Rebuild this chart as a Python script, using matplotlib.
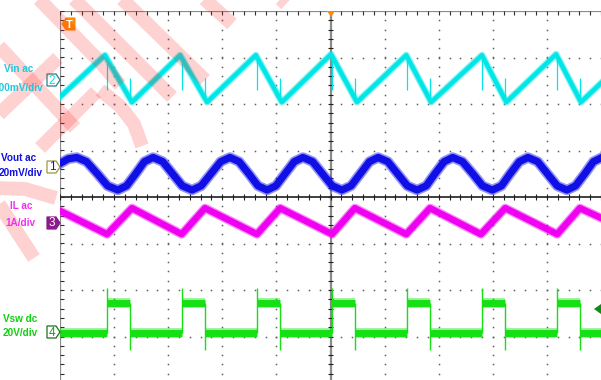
import numpy as np
import matplotlib
matplotlib.use("Agg")
import matplotlib.pyplot as plt
from matplotlib.patches import Polygon

plt.rcParams['font.family'] = ['Liberation Sans', 'DejaVu Sans']

# switching edges (screen divisions)
rise_t = [0.87, 2.26, 3.64, 5.03, 6.41, 7.80, 9.19]
fall_t = [1.29, 2.68, 4.07, 5.45, 6.84, 8.23, 9.61]

# Vin ac (ch2) sawtooth vertices
vin_t = [0.0, 0.83, 1.33, 2.22, 2.72, 3.62, 4.10, 5.01, 5.49, 6.40, 6.86, 7.80, 8.25, 9.17, 9.63, 10.0]
vin_v = [2.15, 3.05, 2.04, 3.05, 2.04, 3.05, 2.04, 3.07, 2.04, 3.05, 2.04, 3.05, 2.04, 3.07, 2.04, 2.45]

# Vout ac (ch1) ripple
vout_t = [0.00, 0.15, 0.31, 0.49, 0.69, 0.88, 1.07, 1.23, 1.40, 1.56, 1.72, 1.90, 2.08, 2.26,
          2.44, 2.61, 2.79, 2.97, 3.14, 3.31, 3.49, 3.66, 3.83, 3.99, 4.16, 4.33, 4.49, 4.67,
          4.85, 5.03, 5.21, 5.38, 5.55, 5.72, 5.88, 6.06, 6.24, 6.42, 6.60, 6.77, 6.93, 7.10,
          7.26, 7.44, 7.63, 7.81, 7.99, 8.16, 8.32, 8.49, 8.65, 8.83, 9.01, 9.19, 9.37, 9.53,
          9.70, 9.86, 10.0]
vout_v = [0.72, 0.82, 0.85, 0.76, 0.50, 0.24, 0.15, 0.24, 0.50, 0.76, 0.85, 0.76, 0.50, 0.24,
          0.15, 0.24, 0.50, 0.76, 0.85, 0.76, 0.50, 0.24, 0.15, 0.24, 0.50, 0.76, 0.85, 0.76,
          0.50, 0.24, 0.15, 0.24, 0.50, 0.76, 0.85, 0.76, 0.50, 0.24, 0.15, 0.24, 0.50, 0.76,
          0.85, 0.76, 0.50, 0.24, 0.15, 0.24, 0.50, 0.76, 0.85, 0.76, 0.50, 0.24, 0.15, 0.24,
          0.50, 0.76, 0.84]

# IL ac (ch3) triangle vertices
il_t = [0.0, 0.87, 1.33, 2.25, 2.68, 3.64, 4.07, 5.03, 5.45, 6.40, 6.84, 7.78, 8.23, 9.19, 9.61, 10.0]
il_v = [-0.30, -0.80, -0.24, -0.80, -0.24, -0.80, -0.24, -0.80, -0.24, -0.80, -0.24, -0.80,
        -0.24, -0.80, -0.24, -0.45]

# Vsw dc (ch4) levels
vsw_low, vsw_high = -2.92, -2.28
vsw_over, vsw_under = -1.96, -3.29

cyan, blue, magenta, green = "#00e6e6", "#1010e6", "#f000f0", "#14e014"

fig = plt.figure(figsize=(6.01, 3.80), dpi=100)
fig.patch.set_facecolor("white")
ax = fig.add_axes([60 / 601, -3 / 380, 541 / 601, 372 / 380])
ax.set_xlim(0, 10)
ax.set_ylim(-4, 4)
ax.axis("off")

# graticule dots
for gx in range(1, 10):
    if gx == 5:
        continue
    yy = np.arange(-4, 4.01, 0.2)
    ax.plot(np.full_like(yy, gx), yy, ls="none", marker="s", ms=1.1, mew=0, color="#606060")
for gy in range(-3, 4):
    if gy == 0:
        continue
    xx = np.arange(0, 10.01, 0.2)
    ax.plot(xx, np.full_like(xx, gy), ls="none", marker="s", ms=1.1, mew=0, color="#606060")

# center axes and borders
ax.plot([5, 5], [-4, 4], color="#8a8a8a", lw=1.6, solid_capstyle="butt")
ax.plot([0, 10], [0, 0], color="#202020", lw=1.2)
ax.plot([0, 10], [4, 4], color="#8a8a8a", lw=1.6)
ax.plot([0, 0], [-4, 4], color="#8a8a8a", lw=1.6)
tx = np.arange(0, 10.01, 0.2)
ty = np.arange(-4, 4.01, 0.2)
ax.vlines(tx, -0.07, 0.07, color="#202020", lw=0.8)
ax.vlines(tx, 3.92, 4.0, color="#303030", lw=0.8)
ax.hlines(ty, 4.95, 5.05, color="#202020", lw=0.8)
ax.hlines(ty, 0.0, 0.07, color="#303030", lw=0.8)

# Vin
ax.plot(vin_t, vin_v, color=cyan, lw=5.0, alpha=0.45, zorder=3)
ax.plot(vin_t, vin_v, color=cyan, lw=3.2, zorder=4)
ax.vlines(rise_t, 2.30, 2.95, color=cyan, lw=0.9, zorder=4)
ax.vlines(fall_t, 2.10, 2.56, color=cyan, lw=0.9, zorder=4)

# Vout
ax.plot(vout_t, vout_v, color=blue, lw=7.5, alpha=0.45, zorder=3)
ax.plot(vout_t, vout_v, color=blue, lw=5.2, zorder=4)

# IL
ax.plot(il_t, il_v, color=magenta, lw=6.5, alpha=0.45, zorder=3)
ax.plot(il_t, il_v, color=magenta, lw=4.6, zorder=4)

# Vsw
low_start = [0.0] + fall_t
low_end = rise_t + [10.0]
low_y = [vsw_low] * len(low_start)
high_y = [vsw_high] * len(rise_t)
ax.hlines(low_y, low_start, low_end, color=green, lw=7.0, alpha=0.45, zorder=3)
ax.hlines(low_y, low_start, low_end, color=green, lw=5.0, zorder=4)
ax.hlines(high_y, rise_t, fall_t, color=green, lw=7.0, alpha=0.45, zorder=3)
ax.hlines(high_y, rise_t, fall_t, color=green, lw=5.0, zorder=4)
ax.vlines(rise_t, vsw_low, vsw_over, color=green, lw=1.0, zorder=4)
ax.vlines(fall_t, vsw_under, vsw_high, color=green, lw=1.0, zorder=4)

# overlay in pixel coordinates
ov = fig.add_axes([0, 0, 1, 1], zorder=5)
ov.set_xlim(0, 601)
ov.set_ylim(380, 0)
ov.axis("off")
ov.patch.set_alpha(0)

labels = [("Vin ac", 19, 69, "#22c8dc"), ("200mV/div", 18, 88, "#22c8dc"),
          ("Vout ac", 19, 158, "#1010e0"), ("20mV/div", 21, 173, "#1010e0"),
          ("IL ac", 21, 206, "#f030f0"), ("1A/div", 20, 223, "#f030f0"),
          ("Vsw dc", 20, 319, "#10d010"), ("20V/div", 20, 333, "#10d010")]
for s, x, y, c in labels:
    ov.text(x, y, s, color=c, fontsize=7.2, fontweight="bold", ha="center", va="center")

markers = [("2", 80, "#2a7f8f", cyan, "white"), ("1", 167, "#9a9a40", blue, "white"),
           ("4", 332, "#207020", "#10a010", "white")]
for n, y, ec, tc, fc in markers:
    ov.add_patch(Polygon([(47, y - 6), (56, y - 6), (60, y), (56, y + 6), (47, y + 6)],
                         closed=True, fc=fc, ec=ec, lw=0.9))
    ov.text(52, y + 0.5, n, color=tc, fontsize=8.5, ha="center", va="center")
ov.add_patch(Polygon([(47, 217), (56, 217), (60, 223), (56, 229), (47, 229)],
                     closed=True, fc="#8c1a8c", ec="#8c1a8c", lw=0.9))
ov.text(52, 223.5, "3", color="white", fontsize=8.5, ha="center", va="center")

# trigger markers
ov.add_patch(Polygon([(62, 24), (66, 18), (75, 18), (75, 30), (66, 30)], closed=True,
                     fc="#ff8a00", ec="#ff8a00", lw=0.8))
ov.text(69.5, 24.5, "T", color="white", fontsize=8, fontweight="bold", ha="center", va="center")
ov.add_patch(Polygon([(327, 11), (335, 11), (331, 17)], closed=True, fc="#ff8a00", ec="none"))
ov.add_patch(Polygon([(601, 304), (601, 314), (594, 309)], closed=True, fc="#108a10", ec="none"))

# watermark strokes
strokes = [
    [(35, -5), (100, 62), (120, 85)],
    [(100, 90), (120, 106), (134, 124), (142, 146)],
    [(70, -5), (172, 97)],
    [(118, -5), (205, 80)],
    [(200, -5), (232, 24)],
    [(276, -5), (286, 4)],
    [(-5, 42), (75, 128)],
    [(58, 58), (-5, 118)],
    [(96, 92), (40, 148)],
    [(-5, 188), (25, 189), (56, 198)],
    [(-5, 198), (34, 258)],
]
for st in strokes:
    xs, ys = zip(*st)
    ov.plot(xs, ys, color="#ff2020", alpha=0.2, lw=10, solid_capstyle="butt",
            solid_joinstyle="round")

fig.savefig("out.png", dpi=100)
